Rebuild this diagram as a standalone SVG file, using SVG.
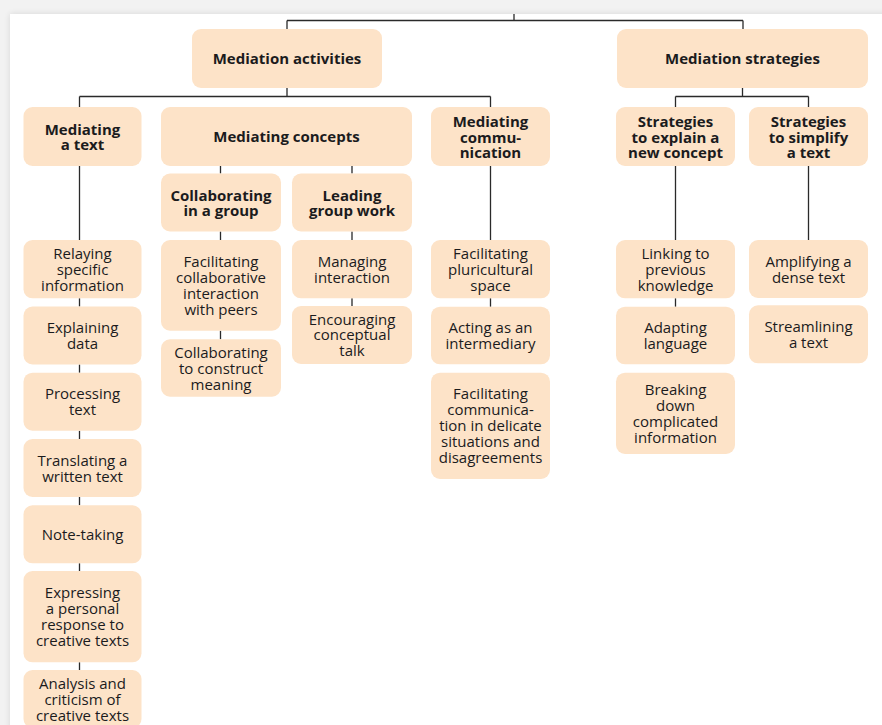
<svg xmlns="http://www.w3.org/2000/svg" width="882" height="725" viewBox="0 0 882 725">
  <defs>
    <filter id="cardShadow" x="-5%" y="-5%" width="110%" height="110%">
      <feGaussianBlur in="SourceAlpha" stdDeviation="3"/>
      <feComponentTransfer><feFuncA type="linear" slope="0.12"/></feComponentTransfer>
      <feMerge><feMergeNode/><feMergeNode in="SourceGraphic"/></feMerge>
    </filter>
    <style>
      .box { fill: #fde3c8; }
      .t { font-family: "Open Sans", "Liberation Sans", sans-serif; font-size: 15px; fill: #1b1b1d; text-anchor: middle; }
      .b { font-weight: bold; }
      .link { fill: none; stroke: #2a2a2a; stroke-width: 1.3; }
    </style>
  </defs>

  <!-- page backdrop and card -->
  <rect x="0" y="0" width="882" height="725" fill="#f2f2f2"/>
  <rect x="10" y="14" width="880" height="720" fill="#ffffff" filter="url(#cardShadow)"/>

  <!-- connectors -->
  <g id="connectors" class="link">
    <path d="M514,14 V20.5 M287,20.5 H743 M287,20.5 V29 M743,20.5 V29"/>
    <path d="M287,88 V96.5 M79.5,96.5 H490.5 M79.5,96.5 V107 M490.5,96.5 V107"/>
    <path d="M742.5,88 V96.5 M675.5,96.5 H808.5 M675.5,96.5 V107 M808.5,96.5 V107"/>
    <path d="M79.5,166 V240 M220.5,166 V173.5 M352,166 V173.5 M490.5,166 V240 M675.5,166 V240 M808.5,166 V240"/>
    <path d="M79.5,298.3 V306.5 M79.5,364.5 V372.7 M79.5,430.7 V439 M79.5,497 V505.3 M79.5,563.3 V571 M79.5,662.3 V670"/>
    <path d="M220.5,231.5 V240 M220.5,330.7 V339.3"/>
    <path d="M352,231.5 V240 M352,298.3 V306"/>
    <path d="M490.5,298.3 V306.7 M675.5,298.3 V306.7"/>
  </g>

  <!-- top level -->
  <g id="mediation-activities">
    <rect class="box" x="192" y="29" width="190" height="59" rx="9"/>
    <text class="t b" x="287" y="64">Mediation activities</text>
  </g>
  <g id="mediation-strategies">
    <rect class="box" x="617" y="29" width="251" height="59" rx="9"/>
    <text class="t b" x="742.5" y="64">Mediation strategies</text>
  </g>

  <!-- second level -->
  <g id="mediating-text">
    <rect class="box" x="23.5" y="107" width="118" height="59" rx="9"/>
    <text class="t b" x="82.5" y="134.5">Mediating<tspan x="82.5" dy="15.5">a text</tspan></text>
  </g>
  <g id="mediating-concepts">
    <rect class="box" x="161" y="107" width="251" height="59" rx="9"/>
    <text class="t b" x="286.5" y="142">Mediating concepts</text>
  </g>
  <g id="mediating-communication">
    <rect class="box" x="431" y="107" width="119" height="59" rx="9"/>
    <text class="t b" x="490.5" y="127">Mediating<tspan x="490.5" dy="15.5">commu-</tspan><tspan x="490.5" dy="15.5">nication</tspan></text>
  </g>
  <g id="strategies-explain">
    <rect class="box" x="616" y="107" width="119" height="59" rx="9"/>
    <text class="t b" x="675.5" y="127">Strategies<tspan x="675.5" dy="15.5">to explain a</tspan><tspan x="675.5" dy="15.5">new concept</tspan></text>
  </g>
  <g id="strategies-simplify">
    <rect class="box" x="749" y="107" width="119" height="59" rx="9"/>
    <text class="t b" x="808.5" y="127">Strategies<tspan x="808.5" dy="15.5">to simplify</tspan><tspan x="808.5" dy="15.5">a text</tspan></text>
  </g>

  <!-- third level -->
  <g id="collaborating-group">
    <rect class="box" x="161" y="173.5" width="120" height="58" rx="9"/>
    <text class="t b" x="221" y="200.5">Collaborating<tspan x="221" dy="15.5">in a group</tspan></text>
  </g>
  <g id="leading-group-work">
    <rect class="box" x="292" y="173.5" width="120" height="58" rx="9"/>
    <text class="t b" x="352" y="200.5">Leading<tspan x="352" dy="15.5">group work</tspan></text>
  </g>

  <!-- mediating a text: activities -->
  <g id="relaying">
    <rect class="box" x="23.5" y="240" width="118" height="58.3" rx="9"/>
    <text class="t" x="82.5" y="258.7">Relaying<tspan x="82.5" dy="16">specific</tspan><tspan x="82.5" dy="16">information</tspan></text>
  </g>
  <g id="explaining-data">
    <rect class="box" x="23.5" y="306.5" width="118" height="58" rx="9"/>
    <text class="t" x="82.5" y="333">Explaining<tspan x="82.5" dy="16">data</tspan></text>
  </g>
  <g id="processing-text">
    <rect class="box" x="23.5" y="372.7" width="118" height="58" rx="9"/>
    <text class="t" x="82.5" y="399.2">Processing<tspan x="82.5" dy="16">text</tspan></text>
  </g>
  <g id="translating">
    <rect class="box" x="23.5" y="439" width="118" height="58" rx="9"/>
    <text class="t" x="82.5" y="465.5">Translating a<tspan x="82.5" dy="16">written text</tspan></text>
  </g>
  <g id="note-taking">
    <rect class="box" x="23.5" y="505.3" width="118" height="58" rx="9"/>
    <text class="t" x="82.5" y="539.8">Note-taking</text>
  </g>
  <g id="expressing">
    <rect class="box" x="23.5" y="571" width="118" height="91.3" rx="9"/>
    <text class="t" x="82.5" y="598.2">Expressing<tspan x="82.5" dy="16">a personal</tspan><tspan x="82.5" dy="16">response to</tspan><tspan x="82.5" dy="16">creative texts</tspan></text>
  </g>
  <g id="analysis">
    <rect class="box" x="23.5" y="670" width="118" height="58" rx="9"/>
    <text class="t" x="82.5" y="688.5">Analysis and<tspan x="82.5" dy="16">criticism of</tspan><tspan x="82.5" dy="16">creative texts</tspan></text>
  </g>

  <!-- collaborating in a group -->
  <g id="facilitating-collaborative">
    <rect class="box" x="161" y="240" width="120" height="90.7" rx="9"/>
    <text class="t" x="221" y="266.9">Facilitating<tspan x="221" dy="16">collaborative</tspan><tspan x="221" dy="16">interaction</tspan><tspan x="221" dy="16">with peers</tspan></text>
  </g>
  <g id="collaborating-meaning">
    <rect class="box" x="161" y="339.3" width="120" height="57.4" rx="9"/>
    <text class="t" x="221" y="357.5">Collaborating<tspan x="221" dy="16">to construct</tspan><tspan x="221" dy="16">meaning</tspan></text>
  </g>

  <!-- leading group work -->
  <g id="managing-interaction">
    <rect class="box" x="292" y="240" width="120" height="58.3" rx="9"/>
    <text class="t" x="352" y="266.7">Managing<tspan x="352" dy="16">interaction</tspan></text>
  </g>
  <g id="encouraging-talk">
    <rect class="box" x="292" y="306" width="120" height="58" rx="9"/>
    <text class="t" x="352" y="324.5">Encouraging<tspan x="352" dy="15.5">conceptual</tspan><tspan x="352" dy="15.5">talk</tspan></text>
  </g>

  <!-- mediating communication -->
  <g id="pluricultural-space">
    <rect class="box" x="431" y="240" width="119" height="58.3" rx="9"/>
    <text class="t" x="490.5" y="258.7">Facilitating<tspan x="490.5" dy="16">pluricultural</tspan><tspan x="490.5" dy="16">space</tspan></text>
  </g>
  <g id="intermediary">
    <rect class="box" x="431" y="306.7" width="119" height="57.6" rx="9"/>
    <text class="t" x="490.5" y="333">Acting as an<tspan x="490.5" dy="16">intermediary</tspan></text>
  </g>
  <g id="delicate-situations">
    <rect class="box" x="431" y="372.7" width="119" height="106.3" rx="9"/>
    <text class="t" x="490.5" y="399.4">Facilitating<tspan x="490.5" dy="16">communica-</tspan><tspan x="490.5" dy="16">tion in delicate</tspan><tspan x="490.5" dy="16">situations and</tspan><tspan x="490.5" dy="16">disagreements</tspan></text>
  </g>

  <!-- strategies to explain a new concept -->
  <g id="linking-knowledge">
    <rect class="box" x="616" y="240" width="119" height="58.3" rx="9"/>
    <text class="t" x="675.5" y="258.7">Linking to<tspan x="675.5" dy="16">previous</tspan><tspan x="675.5" dy="16">knowledge</tspan></text>
  </g>
  <g id="adapting-language">
    <rect class="box" x="616" y="306.7" width="119" height="57.6" rx="9"/>
    <text class="t" x="675.5" y="333">Adapting<tspan x="675.5" dy="16">language</tspan></text>
  </g>
  <g id="breaking-down">
    <rect class="box" x="616" y="372.7" width="119" height="81.3" rx="9"/>
    <text class="t" x="675.5" y="394.9">Breaking<tspan x="675.5" dy="16">down</tspan><tspan x="675.5" dy="16">complicated</tspan><tspan x="675.5" dy="16">information</tspan></text>
  </g>

  <!-- strategies to simplify a text -->
  <g id="amplifying">
    <rect class="box" x="749" y="240" width="119" height="58" rx="9"/>
    <text class="t" x="808.5" y="266.5">Amplifying a<tspan x="808.5" dy="16">dense text</tspan></text>
  </g>
  <g id="streamlining">
    <rect class="box" x="749" y="305.3" width="119" height="58" rx="9"/>
    <text class="t" x="808.5" y="331.8">Streamlining<tspan x="808.5" dy="16">a text</tspan></text>
  </g>
</svg>
